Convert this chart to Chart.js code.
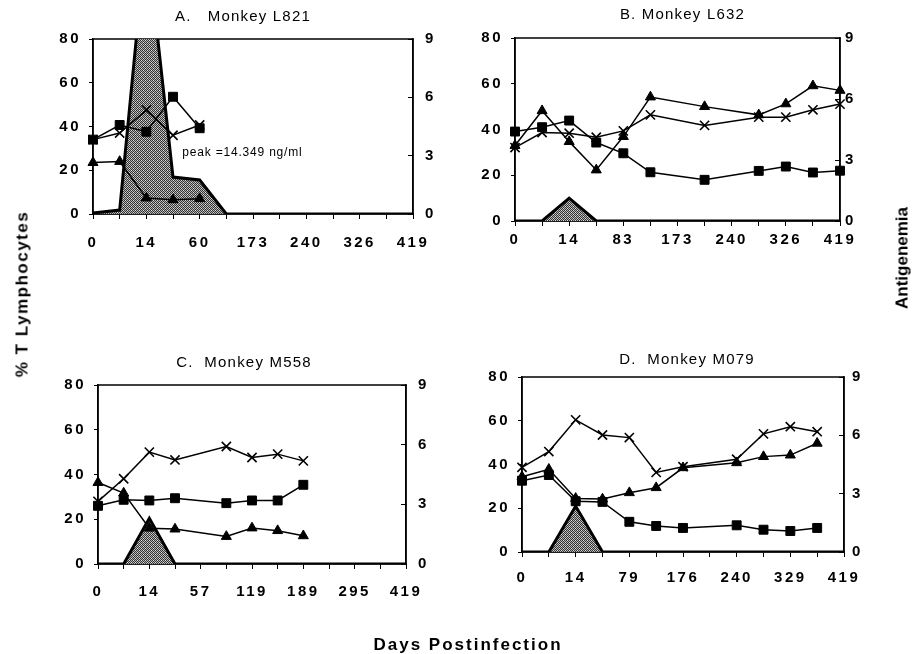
<!DOCTYPE html>
<html><head><meta charset="utf-8">
<script src="https://cdn.jsdelivr.net/npm/chart.js@4.4.1/dist/chart.umd.min.js"></script>
<style>
html,body{margin:0;padding:0;background:#fff;width:916px;height:654px;overflow:hidden;font-family:"Liberation Sans",Arial,sans-serif;}
canvas{position:absolute;}
.t{position:absolute;font-weight:bold;font-size:17px;color:#000;white-space:nowrap;line-height:1;}
</style></head><body>
<canvas id="cA" style="left:0px;top:0px" width="458" height="300"></canvas>
<canvas id="cB" style="left:458px;top:0px" width="458" height="300"></canvas>
<canvas id="cC" style="left:0px;top:300px" width="458" height="354"></canvas>
<canvas id="cD" style="left:458px;top:300px" width="458" height="354"></canvas>
<div class="t" style="left:22px;top:294px;transform:translate(-50%,-50%) rotate(-90deg);letter-spacing:1.5px">% T Lymphocytes</div>
<div class="t" style="left:902px;top:258px;transform:translate(-50%,-50%) rotate(-90deg);">Antigenemia</div>
<div class="t" style="left:468px;top:644px;transform:translate(-50%,-50%);letter-spacing:2px">Days Postinfection</div>
<script>
// ---- tick labels (every other category position is labelled) ----
const daysA = ['0','','14','','60','','173','','240','','326','','419'];
const daysB = ['0','','14','','83','','173','','240','','326','','419'];
const daysC = ['0','','14','','57','','119','','189','','295','','419'];
const daysD = ['0','','14','','79','','176','','240','','329','','419'];
const leftTicks = [0, 20, 40, 60, 80];
const rightTicks = [0, 3, 6, 9];

// ---- Panel A: Monkey L821 ----
const squareA   = [34, 40.7, 37.6, 53.6, 39.2, null, null, null, null, null, null, null, null];
const crossA    = [34, 37, 47.5, 36, 40.7, null, null, null, null, null, null, null, null];
const triangleA = [23.5, 24, 7.3, 6.5, 7, null, null, null, null, null, null, null, null];
const antigenA  = [0.05, 0.2, 14.349, 1.9, 1.75, 0, 0, 0, 0, 0, 0, 0, 0];

// ---- Panel B: Monkey L632 ----
const squareB   = [39.1, 41, 43.9, 34.3, 29.6, 21.3, null, 18, null, 21.9, 23.8, 21.2, 22];
const crossB    = [32.1, 38.7, 38.4, 36.6, 39.4, 46.4, null, 41.8, null, 45.4, 45.4, 48.6, 51.1];
const triangleB = [33, 48.2, 34.7, 22.3, 36.9, 54.2, null, 50, null, 46.4, 51.2, 59.1, 57.1];
const antigenB  = [0, 0, 1.12, 0, 0, 0, 0, 0, 0, 0, 0, 0, 0];

// ---- Panel C: Monkey M558 ----
const squareC   = [26, 28.7, 28.4, 29.4, null, 27.2, 28.4, 28.4, 35.4, null, null, null, null];
const crossC    = [28, 38.1, 50, 46.5, null, 52.5, 47.6, 49.1, 46.1, null, null, null, null];
const triangleC = [36.4, 31.7, 16, 15.6, null, 12.3, 16.1, 14.9, 12.6, null, null, null, null];
const antigenC  = [0, 0, 2.3, 0, 0, 0, 0, 0, 0, 0, 0, 0, 0];

// ---- Panel D: Monkey M079 ----
const squareD   = [32.6, 35.2, 23.2, 22.9, 13.8, 11.9, 11, null, 12.2, 10.2, 9.6, 11, null];
const crossD    = [38.7, 45.9, 60.4, 53.5, 52.3, 36.4, 39, null, 42.4, 54, 57.3, 55, null];
const triangleD = [34.4, 37.8, 24.5, 24.2, 27.1, 29.4, 38.5, null, 40.8, 43.6, 44.3, 49.7, null];
const antigenD  = [0, 0, 2.36, 0, 0, 0, 0, 0, 0, 0, 0, 0, 0];

const FAMILY = '"Liberation Sans", Arial, Helvetica, sans-serif';
Chart.defaults.font.family = FAMILY;
Chart.defaults.color = '#000';

function makePattern(ctx){
  const p = document.createElement('canvas'); p.width = 4; p.height = 4;
  const g = p.getContext('2d');
  g.fillStyle = '#b4b4b4'; g.fillRect(0,0,4,4);
  g.fillStyle = '#333333';
  [[0,0],[2,0],[1,1],[3,1],[0,2],[2,2],[1,3],[3,3]].forEach(([x,y]) => g.fillRect(x,y,1,1));
  g.fillStyle = '#e0e0e0';
  [[1,0],[3,2]].forEach(([x,y]) => g.fillRect(x,y,1,1));
  return ctx.createPattern(p, 'repeat');
}

const deco = {
  id: 'deco',
  beforeDraw(chart){ chart.ctx.letterSpacing = '2.5px'; },
  beforeDatasetsDraw(chart){
    const {ctx, chartArea: a} = chart;
    ctx.save();
    ctx.strokeStyle = '#000'; ctx.lineWidth = 1.5;
    ctx.strokeRect(a.left, a.top, a.right - a.left, a.bottom - a.top);
    ctx.restore();
  },
  afterDraw(chart, args, o){
    const {ctx, chartArea: a} = chart;
    ctx.save();
    ctx.letterSpacing = '1.2px';
    ctx.fillStyle = '#000';
    ctx.font = '15px ' + FAMILY;
    ctx.textAlign = 'center'; ctx.textBaseline = 'middle';
    ctx.fillText(o.title, (a.left + a.right) / 2 + o.dx, a.top + o.dy);
    if (o.note) {
      ctx.letterSpacing = '0.8px';
      ctx.font = '12px ' + FAMILY;
      ctx.textAlign = 'left';
      ctx.fillText(o.note.text, chart.scales.x.getPixelForValue(o.note.x), chart.scales.y.getPixelForValue(o.note.y));
    }
    ctx.restore();
    ctx.letterSpacing = '0px';
  }
};

function build(id, cats, sq, cr, tri, ag, lay){
  const canvas = document.getElementById(id);
  const ctx = canvas.getContext('2d');
  const pat = makePattern(ctx);
  const tickFont = {size: 15, weight: 'bold', family: FAMILY};
  const line = {borderColor:'#000', borderWidth:1.5, pointBackgroundColor:'#000', pointBorderColor:'#000', spanGaps:true, tension:0, fill:false, yAxisID:'y'};
  return new Chart(ctx, {
    type: 'line',
    data: {
      labels: cats,
      datasets: [
        Object.assign({label:'square', data: sq, pointStyle:'rect', pointRadius:6.3, pointBorderWidth:1}, line),
        Object.assign({label:'cross', data: cr, pointStyle:'crossRot', pointRadius:6.5, pointBorderWidth:1.6}, line),
        Object.assign({label:'triangle', data: tri, pointStyle:'triangle', pointRadius:5.8, pointBorderWidth:1}, line),
        {label:'antigenemia', data: ag, yAxisID:'y1', fill:'origin', backgroundColor: pat, borderColor:'#000', borderWidth:3, pointRadius:0, tension:0, order:5}
      ]
    },
    options: {
      responsive:false, animation:false, events:[],
      layout:{padding: lay.pad},
      plugins:{legend:{display:false}, tooltip:{enabled:false}, title:{display:false},
        deco:{title: lay.title, dx: lay.dx, dy: lay.dy, note: lay.note}},
      scales:{
        x:{type:'category', offset:false,
          grid:{display:true, drawOnChartArea:false, drawTicks:true, tickLength:5, color:'#000', lineWidth:1},
          border:{display:true, color:'#000', width:1.5},
          ticks:{autoSkip:false, maxRotation:0, minRotation:0, padding: lay.xpad, color:'#000', font: tickFont},
          afterFit(s){ s.height = 40; s.paddingLeft = 0; s.paddingRight = 0; }
        },
        y:{type:'linear', position:'left', min:0, max:80,
          afterBuildTicks(s){ s.ticks = leftTicks.map(v => ({value:v})); },
          grid:{display:true, drawOnChartArea:false, drawTicks:true, tickLength:4, color:'#000', lineWidth:1},
          border:{display:true, color:'#000', width:1.5},
          ticks:{padding:8, color:'#000', font: tickFont},
          afterFit(s){ s.width = 40; s.paddingTop = 0; s.paddingBottom = 0; }
        },
        y1:{type:'linear', position:'right', min:0, max:9,
          afterBuildTicks(s){ s.ticks = rightTicks.map(v => ({value:v})); },
          grid:{display:true, drawOnChartArea:false, drawTicks:true, tickLength:-5, color:'#000', lineWidth:1},
          border:{display:true, color:'#000', width:1.5},
          ticks:{padding: lay.rpad, color:'#000', font: tickFont},
          afterFit(s){ s.width = 40; s.paddingTop = 0; s.paddingBottom = 0; }
        }
      }
    },
    plugins:[deco]
  });
}

build('cA', daysA, squareA, crossA, triangleA, antigenA,
  {pad:{left:53, right:5, top:39, bottom:46}, xpad:15, rpad:17, title:'A.   Monkey L821', dx:-10, dy:-22,
   note:{text:'peak =14.349 ng/ml', x:3.35, y:28}});
build('cB', daysB, squareB, crossB, triangleB, antigenB,
  {pad:{left:17, right:36, top:38, bottom:39}, xpad:5, rpad:10, title:'B. Monkey L632', dx:5, dy:-23});
build('cC', daysC, squareC, crossC, triangleC, antigenC,
  {pad:{left:58, right:12, top:85, bottom:50}, xpad:14, rpad:17, title:'C.  Monkey M558', dx:-8, dy:-22});
build('cD', daysD, squareD, crossD, triangleD, antigenD,
  {pad:{left:24, right:32, top:77, bottom:62}, xpad:12, rpad:13, title:'D.  Monkey M079', dx:4, dy:-17});
</script>
</body></html>
